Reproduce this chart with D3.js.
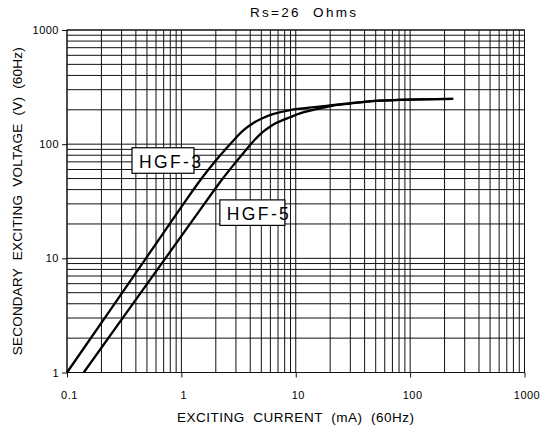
<!DOCTYPE html>
<html>
<head>
<meta charset="utf-8">
<script src="https://cdn.jsdelivr.net/npm/d3@7"></script>
<style>
  html, body { margin: 0; padding: 0; background: #fff; }
  svg { display: block; }
  text { font-family: "Liberation Sans", Arial, sans-serif; fill: #000; }
  .pre { white-space: pre; }
</style>
</head>
<body>
<svg id="chart" width="542" height="428"></svg>
<script>
// ---- data ----
const chartTitle = "Rs=26  Ohms";
const xAxisTitle = "EXCITING  CURRENT  (mA)  (60Hz)";
const yAxisTitle = "SECONDARY  EXCITING  VOLTAGE  (V)  (60Hz)";

const xTickValues = [0.1, 1, 10, 100, 1000];
const xTickLabels = ["0.1", "1", "10", "100", "1000"];
const yTickValues = [1, 10, 100, 1000];
const yTickLabels = ["1", "10", "100", "1000"];

const seriesNames = ["HGF-3", "HGF-5"];

const hgf3Current = [0.1, 0.5, 1.0, 1.5, 2.0, 2.5, 3.0, 3.5, 4.2, 5.0, 6.3, 8.9, 16, 40, 80, 238];
const hgf3Voltage = [1, 10.3, 28.2, 50, 72, 93, 114, 133, 152, 167, 183, 199, 213, 235, 244, 249];

const hgf5Current = [0.14, 0.73, 1.6, 2.3, 2.9, 3.7, 4.4, 5.1, 6.0, 6.8, 8.9, 10.9, 16.3, 21.3, 30, 40, 80, 238];
const hgf5Voltage = [1, 10.1, 30.3, 50, 67, 90, 110, 127, 143, 154, 172, 186, 206, 218, 227, 235, 244, 249];

// label anchor points (data coordinates: top-left of each label box)
const labelCurrent = [0.37, 2.17];
const labelVoltage = [93, 32.5];

// ---- layout ----
const svg = d3.select("#chart");
const plot = { left: 67, right: 524.5, top: 30, bottom: 372.5 };

const x = d3.scaleLog().domain([0.1, 1000]).range([plot.left, plot.right]);
const y = d3.scaleLog().domain([1, 1000]).range([plot.bottom, plot.top]);

// grid
const grid = svg.append("g").attr("stroke", "#111").attr("stroke-width", 1).attr("fill", "none");
grid.selectAll("line.gx").data(x.ticks()).join("line")
  .attr("class", "gx")
  .attr("x1", d => x(d)).attr("x2", d => x(d))
  .attr("y1", plot.top).attr("y2", plot.bottom);
grid.selectAll("line.gy").data(y.ticks()).join("line")
  .attr("class", "gy")
  .attr("y1", d => y(d)).attr("y2", d => y(d))
  .attr("x1", plot.left).attr("x2", plot.right);
grid.append("rect")
  .attr("x", plot.left).attr("y", plot.top)
  .attr("width", plot.right - plot.left).attr("height", plot.bottom - plot.top);

// axes
const xAxis = d3.axisBottom(x)
  .tickValues(xTickValues)
  .tickFormat((d, i) => xTickLabels[i])
  .tickSize(5).tickSizeOuter(0).tickPadding(14);
const gx = svg.append("g").attr("transform", `translate(0,${plot.bottom})`).call(xAxis);
gx.select(".domain").remove();
gx.selectAll(".tick line").attr("stroke", "#111");
gx.selectAll(".tick text").attr("font-size", 11).attr("letter-spacing", "0.5px")
  .attr("font-family", "Liberation Sans, Arial, sans-serif").attr("dx", 2);

const yAxis = d3.axisLeft(y)
  .tickValues(yTickValues)
  .tickFormat((d, i) => yTickLabels[i])
  .tickSize(5).tickSizeOuter(0).tickPadding(3);
const gy = svg.append("g").attr("transform", `translate(${plot.left},0)`).call(yAxis);
gy.select(".domain").remove();
gy.selectAll(".tick line").attr("stroke", "#111");
gy.selectAll(".tick text").attr("font-size", 11).attr("letter-spacing", "0.5px")
  .attr("font-family", "Liberation Sans, Arial, sans-serif");

// titles
svg.append("text")
  .attr("class", "pre")
  .attr("x", 250).attr("y", 17)
  .attr("font-size", 13.5)
  .attr("textLength", 106).attr("lengthAdjust", "spacing")
  .text(chartTitle);

svg.append("text")
  .attr("class", "pre")
  .attr("x", 177).attr("y", 421.5)
  .attr("font-size", 13.5)
  .attr("textLength", 237).attr("lengthAdjust", "spacing")
  .text(xAxisTitle);

svg.append("text")
  .attr("class", "pre")
  .attr("transform", `translate(21.5,${(plot.top + plot.bottom) / 2}) rotate(-90)`)
  .attr("text-anchor", "middle")
  .attr("font-size", 13.5)
  .attr("textLength", 308).attr("lengthAdjust", "spacing")
  .text(yAxisTitle);

// label boxes
const boxW = [62, 65], boxH = 25.5;
seriesNames.forEach((name, i) => {
  const bx = x(labelCurrent[i]), by = y(labelVoltage[i]);
  const g = svg.append("g");
  g.append("rect")
    .attr("x", bx).attr("y", by).attr("width", boxW[i]).attr("height", boxH)
    .attr("fill", "#fff").attr("stroke", "#000").attr("stroke-width", 1.2);
  g.append("text")
    .attr("x", bx + 7).attr("y", by + 20)
    .attr("font-size", 17.5)
    .attr("textLength", 62).attr("lengthAdjust", "spacing")
    .text(name);
});

// curves
const line = d3.line()
  .x(d => x(d[0])).y(d => y(d[1]))
  .curve(d3.curveCatmullRom.alpha(0.5));
const curves = [
  d3.zip(hgf3Current, hgf3Voltage),
  d3.zip(hgf5Current, hgf5Voltage)
];
svg.append("g").selectAll("path").data(curves).join("path")
  .attr("d", line)
  .attr("fill", "none").attr("stroke", "#000").attr("stroke-width", 2.3)
  .attr("stroke-linejoin", "round").attr("stroke-linecap", "butt");
</script>
</body>
</html>
